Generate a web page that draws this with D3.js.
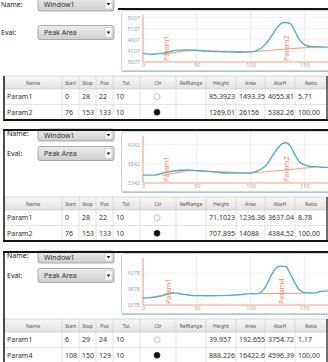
<!DOCTYPE html>
<html>
<head>
<meta charset="utf-8">
<script src="https://cdn.jsdelivr.net/npm/d3@7"></script>
<style>
body { margin: 0; background: #fff; }
svg text { font-family: "Noto Sans", "DejaVu Sans", sans-serif; }
</style>
</head>
<body>
<svg id="chart" width="328" height="362"></svg>
<script>
// axis ticks
var xTicks = [0, 50, 100, 150];
var yTicks1 = [3607, 4107, 4607, 5107, 5607];
var yTicks2 = [3342, 3842, 4342];
var yTicks3 = [3378, 3878, 4378];
var yMax = [5720, 4560, 4850];

// signal curves (position, value)
var curveX1 = [0, 10, 20, 30, 40, 50, 60, 70, 80, 90, 100, 105, 110, 115, 120, 125, 130, 133, 137, 141, 145, 150, 155, 160, 165, 172];
var curveY1 = [3985, 3955, 4020, 4130, 4150, 4135, 4095, 4075, 4062, 4045, 4060, 4110, 4235, 4465, 4810, 5180, 5370, 5382, 5330, 5020, 4640, 4390, 4310, 4285, 4280, 4275];
var curveX2 = [0, 10, 20, 30, 40, 50, 60, 70, 80, 90, 100, 105, 110, 115, 120, 125, 130, 133, 137, 141, 145, 150, 155, 160, 165, 172];
var curveY2 = [3546, 3546, 3610, 3660, 3678, 3662, 3643, 3616, 3600, 3598, 3605, 3640, 3705, 3815, 4030, 4236, 4369, 4384, 4300, 4090, 3900, 3812, 3776, 3765, 3750, 3748];
var curveX3 = [0, 10, 20, 24, 28, 32, 40, 50, 60, 70, 80, 90, 100, 105, 108, 112, 116, 120, 125, 129, 133, 137, 141, 145, 150, 155, 160, 165, 172];
var curveY3 = [3595, 3617, 3690, 3750, 3760, 3745, 3704, 3672, 3668, 3672, 3680, 3700, 3735, 3726, 3740, 3860, 4080, 4350, 4570, 4596, 4570, 4350, 4080, 3870, 3760, 3755, 3758, 3800, 3820];

// baselines (null = gap)
var baseX1 = [18, 42, 100, 130, 162];
var baseY1 = [3950, 4125, 4070, 4180, 4285];
var baseX2 = [18, 42, 100, 133, 162];
var baseY2 = [3535, 3670, 3600, 3680, 3762];
var baseX3 = [6, 29, null, 108, 150];
var baseY3 = [3615, 3745, null, 3735, 3745];

// parameter markers
var markerNames1 = ['Param1', 'Param2'];
var markerPos1 = [22, 133];
var markerNames2 = ['Param1', 'Param2'];
var markerPos2 = [22, 133];
var markerNames3 = ['Param1', 'Param4'];
var markerPos3 = [24, 129];

// result tables
var columns = ['Name', 'Start', 'Stop', 'Pos', 'Tol.', 'Ctr', 'RefRange', 'Height', 'Area', 'AbsH', 'Ratio'];
var rows1 = [
    ['Param1', '0', '28', '22', '10', false, '', '85.3923', '1493.35', '4055.81', '5.71'],
    ['Param2', '76', '153', '133', '10', true, '', '1269.01', '26156', '5382.26', '100.00']
];
var rows2 = [
    ['Param1', '0', '28', '22', '10', false, '', '71.1023', '1236.36', '3637.04', '8.78'],
    ['Param2', '76', '153', '133', '10', true, '', '707.895', '14088', '4384.52', '100.00']
];
var rows3 = [
    ['Param1', '6', '29', '24', '10', false, '', '39.957', '192.655', '3754.72', '1.17'],
    ['Param4', '108', '150', '129', '10', true, '', '888.226', '16422.6', '4596.39', '100.00']
];
var windowName = 'Window1';
var evalName = 'Peak Area';

var panels = [
    { dy: 0, yTicks: yTicks1, yMax: yMax[0], cx: curveX1, cy: curveY1, bx: baseX1, by: baseY1, mn: markerNames1, mp: markerPos1, rows: rows1, first: true },
    { dy: 121, yTicks: yTicks2, yMax: yMax[1], cx: curveX2, cy: curveY2, bx: baseX2, by: baseY2, mn: markerNames2, mp: markerPos2, rows: rows2 },
    { dy: 243, yTicks: yTicks3, yMax: yMax[2], cx: curveX3, cy: curveY3, bx: baseX3, by: baseY3, mn: markerNames3, mp: markerPos3, rows: rows3 }
];

var blue = '#58adc4';
var orange = '#f3a27e';
var colEdges = [4, 62, 79, 96, 113, 140, 176, 206, 236, 265, 295, 327];

var svg = d3.select('#chart');
var defs = svg.append('defs');
var cg = defs.append('linearGradient').attr('id', 'combo').attr('x1', 0).attr('y1', 0).attr('x2', 0).attr('y2', 1);
cg.append('stop').attr('offset', 0).attr('stop-color', '#ececec');
cg.append('stop').attr('offset', 1).attr('stop-color', '#cfcfcf');
var hg = defs.append('linearGradient').attr('id', 'head').attr('x1', 0).attr('y1', 0).attr('x2', 0).attr('y2', 1);
hg.append('stop').attr('offset', 0).attr('stop-color', '#f7f7f7');
hg.append('stop').attr('offset', 1).attr('stop-color', '#e3e3e3');
defs.append('clipPath').attr('id', 'plotclip').append('rect')
    .attr('x', 122).attr('y', 11).attr('width', 210).attr('height', 60);

var x = d3.scaleLinear().domain([0, 172]).range([143, 328]);

function combo(g, x0, y0, w, h, label) {
    g.append('rect').attr('x', x0).attr('y', y0).attr('width', w).attr('height', h)
        .attr('rx', 2).attr('fill', 'url(#combo)').attr('stroke', '#9a9a9a').attr('stroke-width', 0.8);
    g.append('rect').attr('x', x0 + w - 9).attr('y', y0 + 2).attr('width', 7).attr('height', h - 4)
        .attr('fill', '#fafafa').attr('stroke', '#bbb').attr('stroke-width', 0.5);
    var ax = x0 + w - 5.5, ay = y0 + h / 2;
    g.append('path').attr('d', 'M' + (ax - 1.8) + ',' + (ay - 1) + 'L' + (ax + 1.8) + ',' + (ay - 1) + 'L' + ax + ',' + (ay + 1.5) + 'Z')
        .attr('fill', '#111');
    g.append('text').attr('x', x0 + 6).attr('y', y0 + h / 2 + 2.5)
        .attr('font-size', 7).attr('fill', '#333').text(label);
}

panels.forEach(function (p) {
    var g = svg.append('g').attr('transform', 'translate(0,' + p.dy + ')');
    var y = d3.scaleLinear().domain([p.yTicks[0], p.yMax]).range([62, 15]);
    var lx = p.first ? 1 : 7;

    // controls on the left
    var nameTop = p.first ? -3 : 8;
    combo(g, 38, nameTop, 76, p.first ? 14 : 12, windowName);
    g.append('text').attr('x', lx).attr('y', p.first ? 7 : 15)
        .attr('font-size', 7).attr('fill', '#222').text('Name:');
    combo(g, 38, 25.5, 76, 14, evalName);
    g.append('text').attr('x', lx).attr('y', 35)
        .attr('font-size', 7).attr('fill', '#222').text('Eval:');

    // chart box
    g.append('rect').attr('x', 121.5).attr('y', 10.5).attr('width', 215).attr('height', 61)
        .attr('rx', 3).attr('fill', '#fff').attr('stroke', '#cdd5de');
    g.append('line').attr('x1', 122).attr('x2', 328).attr('y1', 71).attr('y2', 71)
        .attr('stroke', '#94b2c8').attr('stroke-width', 1.2);

    var plot = g.append('g').attr('clip-path', 'url(#plotclip)');
    // grid
    plot.selectAll('.vgrid').data(xTicks.slice(1)).enter().append('line')
        .attr('x1', function (d) { return x(d); }).attr('x2', function (d) { return x(d); })
        .attr('y1', 12).attr('y2', 62).attr('stroke', '#e6e6e6').attr('stroke-width', 0.8);
    plot.selectAll('.hgrid').data(p.yTicks.slice(1)).enter().append('line')
        .attr('x1', x(0)).attr('x2', 328)
        .attr('y1', function (d) { return y(d); }).attr('y2', function (d) { return y(d); })
        .attr('stroke', '#f0f0f0').attr('stroke-width', 0.8);

    // orange axis lines
    plot.append('line').attr('x1', x(0)).attr('x2', x(0)).attr('y1', 15).attr('y2', 62)
        .attr('stroke', orange).attr('stroke-width', 1.1);
    plot.append('line').attr('x1', x(0)).attr('x2', 328).attr('y1', 62).attr('y2', 62)
        .attr('stroke', orange).attr('stroke-width', 1.1);

    // baseline
    var base = p.bx.map(function (v, i) { return [v, p.by[i]]; });
    var baseLine = d3.line()
        .defined(function (d) { return d[0] != null; })
        .x(function (d) { return x(d[0]); })
        .y(function (d) { return y(d[1]); });
    plot.append('path').datum(base).attr('d', baseLine)
        .attr('fill', 'none').attr('stroke', orange).attr('stroke-width', 1.1);

    // signal
    var pts = p.cx.map(function (v, i) { return [v, p.cy[i]]; });
    var line = d3.line().curve(d3.curveMonotoneX)
        .x(function (d) { return x(d[0]); })
        .y(function (d) { return y(d[1]); });
    plot.append('path').datum(pts).attr('d', line)
        .attr('fill', 'none').attr('stroke', blue).attr('stroke-width', 1.4);

    // markers
    plot.selectAll('.marker').data(p.mn).enter().append('text')
        .attr('transform', function (d, i) { return 'translate(' + (x(p.mp[i]) + 2.5) + ',61) rotate(-90)'; })
        .attr('font-size', 7).attr('fill', '#f0885c').text(function (d) { return d; });

    // axes
    var ya = g.append('g').attr('transform', 'translate(143,0)')
        .call(d3.axisLeft(y).tickValues(p.yTicks).tickSize(0).tickPadding(3).tickFormat(d3.format('d')));
    var xa = g.append('g').attr('transform', 'translate(0,62)')
        .call(d3.axisBottom(x).tickValues(xTicks).tickSize(0).tickPadding(1.5));
    [ya, xa].forEach(function (a) {
        a.select('.domain').remove();
        a.selectAll('text').attr('font-size', 5.5).attr('fill', '#a8a8a8')
            .attr('font-family', '"Noto Sans", sans-serif');
    });

    // table header
    var th = 76, rh = 15.5;
    g.append('rect').attr('x', colEdges[0]).attr('y', th).attr('width', colEdges[11] - colEdges[0]).attr('height', 13)
        .attr('fill', 'url(#head)').attr('stroke', '#c2c2c2').attr('stroke-width', 0.6);
    columns.forEach(function (c, i) {
        g.append('text').attr('x', (colEdges[i] + colEdges[i + 1]) / 2).attr('y', th + 8.5)
            .attr('text-anchor', 'middle').attr('font-size', 5).attr('fill', '#555').text(c);
        if (i > 0) {
            g.append('line').attr('x1', colEdges[i]).attr('x2', colEdges[i])
                .attr('y1', th).attr('y2', th + 13 + 2 * rh)
                .attr('stroke', '#cfcfcf').attr('stroke-width', 0.6);
        }
    });

    // table rows
    p.rows.forEach(function (r, ri) {
        var top = th + 13 + ri * rh;
        var cy = top + rh / 2;
        if (ri > 0) {
            g.append('line').attr('x1', colEdges[0]).attr('x2', colEdges[11])
                .attr('y1', top).attr('y2', top).attr('stroke', '#d4d4d4').attr('stroke-width', 0.6);
        }
        r.forEach(function (v, ci) {
            if (ci === 5) {
                g.append('circle').attr('cx', (colEdges[5] + colEdges[6]) / 2 - 1).attr('cy', cy).attr('r', 3)
                    .attr('fill', v ? '#111' : '#fff').attr('stroke', v ? '#333' : '#aaa').attr('stroke-width', 0.7);
            } else if (v !== '') {
                g.append('text').attr('x', colEdges[ci] + 3).attr('y', cy + 2.5)
                    .attr('font-size', 7).attr('fill', '#333').text(v);
            }
        });
    });

    // panel frame
    var fr = g.append('g').attr('stroke', '#151515').attr('fill', 'none');
    fr.append('line').attr('x1', p.first ? 118 : 3).attr('x2', 328).attr('y1', 9).attr('y2', 9).attr('stroke-width', 2);
    fr.append('line').attr('x1', 4).attr('x2', 4).attr('y1', p.first ? 76 : 9).attr('y2', 120).attr('stroke-width', 1.5);
    fr.append('line').attr('x1', 327).attr('x2', 327).attr('y1', 76).attr('y2', 120).attr('stroke-width', 1.2);
    fr.append('line').attr('x1', 3).attr('x2', 328).attr('y1', 120).attr('y2', 120).attr('stroke-width', 2);
});
</script>
</body>
</html>
